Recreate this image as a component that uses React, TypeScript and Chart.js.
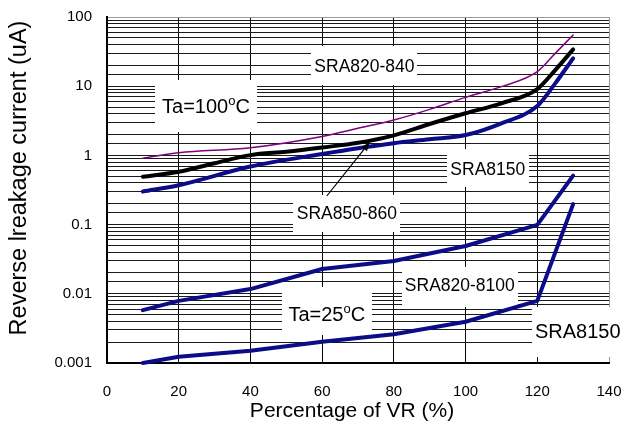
import { useEffect, useRef } from 'react';
import { Chart, registerables } from 'chart.js';

Chart.register(...registerables);

// ---- data (Percentage of VR %, reverse leakage current uA) ----
const PCT_820_840 = [10, 20, 40, 60, 70, 80, 90, 100, 110, 120, 125, 130];
const IR_820_840 = [0.91, 1.09, 1.29, 1.88, 2.46, 3.25, 4.63, 6.9, 9.85, 16.2, 29.8, 55];

const PCT_850_860 = [10, 20, 30, 40, 50, 60, 70, 80, 90, 100, 110, 120, 125, 130];
const IR_850_860 = [0.49, 0.58, 0.77, 1.01, 1.13, 1.3, 1.52, 1.95, 2.84, 4.06, 5.66, 9.1, 17.1, 34];

const PCT_8150_HOT = [10, 20, 40, 60, 70, 80, 90, 100, 110, 120, 125, 130];
const IR_8150_HOT = [0.3, 0.37, 0.69, 1.05, 1.27, 1.5, 1.71, 1.97, 2.91, 5.18, 11, 25.3];

const PCT_820_8100_25 = [10, 20, 40, 60, 80, 100, 120, 130];
const IR_820_8100_25 = [0.0058, 0.0079, 0.0117, 0.0228, 0.0298, 0.049, 0.099, 0.51];

const PCT_8150_25 = [10, 20, 40, 60, 80, 100, 120, 130];
const IR_8150_25 = [0.001, 0.00123, 0.0015, 0.00203, 0.0026, 0.00395, 0.0079, 0.198];

const X_TICKS = [0, 20, 40, 60, 80, 100, 120, 140];
const Y_DECADES = [0.001, 0.01, 0.1, 1, 10, 100];
const Y_LABELS = ['0.001', '0.01', '0.1', '1', '10', '100'];

const X_TITLE = 'Percentage of VR (%)';
const Y_TITLE = 'Reverse lreakage current (uA)';

// ---- annotations (positions in data coordinates) ----
const LABELS = [
  { text: 'SRA820-840', x: 71.8, y: 19.8, size: 17.5, w: 106, h: 39, dy: 0 },
  { text: 'Ta=100', sup: 'o', tail: 'C', x: 27.6, y: 5.26, size: 20, w: 102, h: 52, dy: 0 },
  { text: 'SRA8150', x: 106.2, y: 0.647, size: 17.5, w: 82, h: 38, dy: 0 },
  { text: 'SRA850-860', x: 66.9, y: 0.15, size: 17.5, w: 107, h: 37, dy: 1 },
  { text: 'SRA820-8100', x: 98.4, y: 0.0134, size: 17.5, w: 116, h: 40, dy: 2 },
  { text: 'Ta=25', sup: 'o', tail: 'C', x: 61.3, y: 0.00519, size: 20, w: 90, h: 48, dy: -2.5 },
  { text: 'SRA8150', x: 131.3, y: 0.00295, size: 20, w: 92, h: 50, dy: 1.5 },
];
const ARROW = { from: [61.3, 0.259], to: [73.3, 1.56] };

const FONT = "'Liberation Sans', Arial, sans-serif";
const NAVY = '#0c0c88';

const pts = (xs: number[], ys: number[]) => xs.map((x, i) => ({ x, y: ys[i] }));

function drawLabel(ctx: CanvasRenderingContext2D, l: any, cx: number, cy: number) {
  const capH = 0.716 * l.size;
  const base = cy + capH / 2;
  ctx.fillStyle = '#000';
  ctx.textBaseline = 'alphabetic';
  ctx.textAlign = 'left';
  ctx.font = `${l.size}px ${FONT}`;
  const w1 = ctx.measureText(l.text).width;
  let total = w1;
  let wSup = 0;
  let wTail = 0;
  const supSize = Math.round(l.size * 0.65);
  if (l.sup) {
    ctx.font = `${supSize}px ${FONT}`;
    wSup = ctx.measureText(l.sup).width;
    ctx.font = `${l.size}px ${FONT}`;
    wTail = ctx.measureText(l.tail).width;
    total += wSup + wTail;
  }
  let x = cx - total / 2;
  ctx.font = `${l.size}px ${FONT}`;
  ctx.fillText(l.text, x, base);
  x += w1;
  if (l.sup) {
    ctx.font = `${supSize}px ${FONT}`;
    const raise = capH - 0.519 * supSize;
    ctx.fillText(l.sup, x, base - raise);
    x += wSup;
    ctx.font = `${l.size}px ${FONT}`;
    ctx.fillText(l.tail, x, base);
  }
}

const annotPlugin = {
  id: 'annots',
  beforeDatasetsDraw(chart: any) {
    const { ctx, scales } = chart;
    ctx.save();
    ctx.fillStyle = '#fff';
    for (const l of LABELS) {
      const cx = scales.x.getPixelForValue(l.x);
      const cy = scales.y.getPixelForValue(l.y) + l.dy;
      ctx.fillRect(Math.round(cx - l.w / 2), Math.round(cy - l.h / 2), l.w, l.h);
    }
    ctx.restore();
  },
  afterDatasetsDraw(chart: any) {
    const { ctx, scales } = chart;
    ctx.save();
    for (const l of LABELS) {
      const cx = scales.x.getPixelForValue(l.x);
      const cy = scales.y.getPixelForValue(l.y);
      drawLabel(ctx, l, cx, cy);
    }
    // arrow
    const x1 = scales.x.getPixelForValue(ARROW.from[0]);
    const y1 = scales.y.getPixelForValue(ARROW.from[1]);
    const x2 = scales.x.getPixelForValue(ARROW.to[0]);
    const y2 = scales.y.getPixelForValue(ARROW.to[1]);
    const ang = Math.atan2(y2 - y1, x2 - x1);
    const hl = 9;
    const hw = 3.5;
    const bx = x2 - hl * Math.cos(ang);
    const by = y2 - hl * Math.sin(ang);
    ctx.strokeStyle = '#000';
    ctx.lineWidth = 1.2;
    ctx.beginPath();
    ctx.moveTo(x1, y1);
    ctx.lineTo(bx, by);
    ctx.stroke();
    ctx.fillStyle = '#000';
    ctx.beginPath();
    ctx.moveTo(x2, y2);
    ctx.lineTo(bx + hw * Math.sin(ang), by - hw * Math.cos(ang));
    ctx.lineTo(bx - hw * Math.sin(ang), by + hw * Math.cos(ang));
    ctx.closePath();
    ctx.fill();
    ctx.restore();
  },
  afterDraw(chart: any) {
    const { ctx } = chart;
    ctx.save();
    ctx.fillStyle = '#000';
    ctx.textAlign = 'center';
    ctx.textBaseline = 'middle';
    ctx.font = `21px ${FONT}`;
    ctx.fillText(X_TITLE, 352, 411);
    ctx.translate(20, 178);
    ctx.rotate(-Math.PI / 2);
    ctx.font = `23.5px ${FONT}`;
    ctx.fillText(Y_TITLE, 0, 0);
    ctx.restore();
  },
};

export default function App() {
  const ref = useRef<HTMLCanvasElement | null>(null);
  useEffect(() => {
    if (!ref.current) return;
    const line = (data: any, color: string, width: number, smooth: boolean) => ({
      data,
      borderColor: color,
      backgroundColor: color,
      borderWidth: width,
      pointRadius: 0,
      showLine: true,
      fill: false,
      clip: false,
      tension: 0,
      cubicInterpolationMode: smooth ? 'monotone' : 'default',
      borderCapStyle: 'round',
      borderJoinStyle: 'round',
    });
    const chart = new Chart(ref.current, {
      type: 'scatter',
      data: {
        datasets: [
          line(pts(PCT_8150_25, IR_8150_25), NAVY, 4, false),
          line(pts(PCT_820_8100_25, IR_820_8100_25), NAVY, 4, false),
          line(pts(PCT_8150_HOT, IR_8150_HOT), NAVY, 4, true),
          line(pts(PCT_850_860, IR_850_860), '#000', 4, true),
          line(pts(PCT_820_840, IR_820_840), '#800080', 1.5, true),
        ] as any,
      },
      options: {
        animation: false,
        responsive: false,
        events: [],
        layout: { padding: { top: 17, right: 24, left: 0, bottom: 0 } },
        plugins: { legend: { display: false }, tooltip: { enabled: false } },
        scales: {
          x: {
            type: 'linear',
            min: 0,
            max: 140,
            afterBuildTicks: (s: any) => {
              s.ticks = X_TICKS.map((v) => ({ value: v }));
            },
            afterFit: (s: any) => {
              s.height = 71;
              s.paddingLeft = 0;
              s.paddingRight = 0;
            },
            grid: {
              color: (c: any) => (c.tick && c.tick.value === 140 ? '#9a9a9a' : '#000'),
              lineWidth: 1,
              drawTicks: false,
            },
            border: { color: '#000', width: 2 },
            ticks: {
              padding: 20,
              color: '#000',
              font: { family: FONT, size: 15 },
              maxRotation: 0,
              autoSkip: false,
            },
          },
          y: {
            type: 'logarithmic',
            min: 0.001,
            max: 100,
            afterFit: (s: any) => {
              s.width = 107;
              s.paddingTop = 0;
              s.paddingBottom = 0;
            },
            grid: {
              color: (c: any) => (c.tick && Math.abs(c.tick.value - 100) < 1e-9 ? '#9a9a9a' : '#1a1a1a'),
              lineWidth: 1,
              drawTicks: false,
            },
            border: { color: '#000', width: 2 },
            ticks: {
              padding: 15,
              color: '#000',
              autoSkip: false,
              font: { family: FONT, size: 15 },
              callback: (v: any) => {
                const val = Number(v);
                const i = Y_DECADES.findIndex((d) => Math.abs(Math.log10(d) - Math.log10(val)) < 1e-6);
                return i >= 0 ? Y_LABELS[i] : '';
              },
            },
          },
        },
      } as any,
      plugins: [annotPlugin],
    });
    return () => chart.destroy();
  }, []);
  return (
    <div style={{ position: 'absolute', left: 0, top: 0, width: 633, height: 434, background: '#fff' }}>
      <canvas ref={ref} width={633} height={434} style={{ display: 'block' }} />
    </div>
  );
}
